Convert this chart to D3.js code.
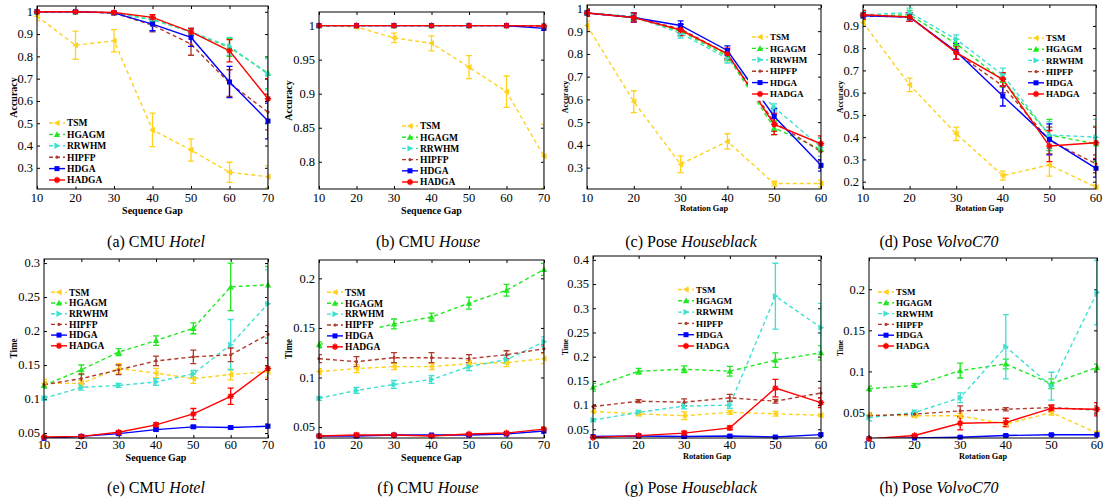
<!DOCTYPE html>
<html>
<head>
<meta charset="utf-8">
<script src="https://d3js.org/d3.v7.min.js"></script>
<style>
  body { margin: 0; background: #fff; }
  text { font-family: "Liberation Serif", "Times New Roman", serif; fill: #000; }
</style>
</head>
<body>
<svg width="1103" height="500"></svg>
<script>
// ---- data ----
var methods = ["TSM", "HGAGM", "RRWHM", "HIPFP", "HDGA", "HADGA"];
var seqGaps = [10, 20, 30, 40, 50, 60, 70];
var rotGaps = [10, 20, 30, 40, 50, 60];

// tick labels
var accTicksA = [0.3, 0.4, 0.5, 0.6, 0.7, 0.8, 0.9, 1];
var accTicksB = [0.8, 0.85, 0.9, 0.95, 1];
var accTicksC = [0.3, 0.4, 0.5, 0.6, 0.7, 0.8, 0.9, 1];
var accTicksD = [0.2, 0.3, 0.4, 0.5, 0.6, 0.7, 0.8, 0.9];
var timeTicksE = [0.05, 0.1, 0.15, 0.2, 0.25, 0.3];
var timeTicksF = [0.05, 0.1, 0.15, 0.2];
var timeTicksG = [0.05, 0.1, 0.15, 0.2, 0.25, 0.3, 0.35, 0.4];
var timeTicksH = [0.05, 0.1, 0.15, 0.2];

// (a) CMU Hotel accuracy, rows follow methods
var hotelAcc = [
  [0.98, 0.85, 0.87, 0.47, 0.38, 0.28, 0.26],
  [1, 1, 0.995, 0.965, 0.91, 0.84, 0.725],
  [1, 1, 0.995, 0.965, 0.91, 0.845, 0.72],
  [1, 1, 0.995, 0.94, 0.855, 0.68, 0.55],
  [1, 1, 0.995, 0.945, 0.885, 0.685, 0.51],
  [1, 1, 0.997, 0.975, 0.91, 0.825, 0.61]
];
var hotelAccErr = [
  [0.02, 0.063, 0.05, 0.075, 0.05, 0.045, 0.05],
  [0.003, 0.003, 0.005, 0.01, 0.01, 0.04, 0.07],
  [0.003, 0.003, 0.005, 0.01, 0.01, 0.04, 0.07],
  [0.003, 0.003, 0.005, 0.03, 0.05, 0.06, 0.08],
  [0.003, 0.003, 0.005, 0.03, 0.04, 0.07, 0.08],
  [0.003, 0.003, 0.005, 0.012, 0.015, 0.05, 0.09]
];

// (b) CMU House accuracy
var houseAcc = [
  [1, 0.998, 0.982, 0.974, 0.939, 0.903, 0.808],
  [1, 1, 1, 1, 1, 1, 1],
  [1, 1, 1, 1, 1, 1, 1],
  [1, 1, 1, 1, 1, 1, 0.999],
  [1, 1, 1, 1, 1, 1, 0.996],
  [1, 1, 1, 1, 1, 1, 0.9995]
];
var houseAccErr = [
  [0.001, 0.002, 0.007, 0.011, 0.017, 0.023, 0.047],
  [0, 0, 0, 0, 0, 0, 0],
  [0, 0, 0, 0, 0, 0, 0],
  [0, 0, 0, 0, 0, 0, 0.001],
  [0, 0, 0, 0, 0, 0, 0.003],
  [0, 0, 0, 0, 0, 0, 0.001]
];

// (c) Pose Houseblack accuracy
var houseblackAcc = [
  [0.925, 0.59, 0.315, 0.415, 0.23, 0.23],
  [0.98, 0.96, 0.9, 0.79, 0.475, 0.38],
  [0.98, 0.965, 0.89, 0.78, 0.565, 0.39],
  [0.98, 0.96, 0.91, 0.8, 0.5, 0.37],
  [0.98, 0.96, 0.925, 0.815, 0.525, 0.31],
  [0.98, 0.96, 0.905, 0.8, 0.49, 0.405]
];
var houseblackAccErr = [
  [0.02, 0.048, 0.037, 0.034, 0.01, 0.015],
  [0.01, 0.015, 0.02, 0.02, 0.03, 0.05],
  [0.01, 0.015, 0.02, 0.02, 0.015, 0.04],
  [0.01, 0.015, 0.02, 0.02, 0.04, 0.04],
  [0.01, 0.02, 0.02, 0.02, 0.035, 0.025],
  [0.015, 0.02, 0.025, 0.025, 0.045, 0.035]
];

// (d) Pose VolvoC70 accuracy
var volvoAcc = [
  [0.915, 0.635, 0.415, 0.227, 0.275, 0.175],
  [0.945, 0.95, 0.82, 0.655, 0.41, 0.37],
  [0.95, 0.96, 0.84, 0.68, 0.41, 0.4],
  [0.945, 0.94, 0.78, 0.63, 0.385, 0.28],
  [0.945, 0.94, 0.785, 0.585, 0.39, 0.26],
  [0.95, 0.94, 0.78, 0.66, 0.36, 0.375]
];
var volvoAccErr = [
  [0.01, 0.03, 0.03, 0.02, 0.05, 0.01],
  [0.015, 0.02, 0.02, 0.03, 0.07, 0.08],
  [0.015, 0.02, 0.02, 0.03, 0.06, 0.08],
  [0.015, 0.02, 0.03, 0.03, 0.06, 0.04],
  [0.015, 0.02, 0.035, 0.045, 0.07, 0.04],
  [0.02, 0.02, 0.03, 0.03, 0.07, 0.07]
];

// (e) CMU Hotel time
var hotelTime = [
  [0.123, 0.123, 0.145, 0.138, 0.13, 0.136, 0.14],
  [0.12, 0.143, 0.169, 0.186, 0.204, 0.265, 0.268],
  [0.101, 0.117, 0.12, 0.125, 0.137, 0.18, 0.24],
  [0.121, 0.13, 0.143, 0.156, 0.162, 0.165, 0.195],
  [0.042, 0.045, 0.049, 0.055, 0.059, 0.058, 0.06],
  [0.044, 0.045, 0.051, 0.062, 0.078, 0.104, 0.145]
];
var hotelTimeErr = [
  [0.006, 0.004, 0.007, 0.007, 0.007, 0.008, 0.008],
  [0.004, 0.007, 0.005, 0.007, 0.008, 0.035, 0.027],
  [0.003, 0.004, 0.003, 0.005, 0.005, 0.037, 0.05],
  [0.004, 0.007, 0.007, 0.007, 0.01, 0.01, 0.013],
  [0.002, 0.002, 0.002, 0.002, 0.002, 0.002, 0.003],
  [0.002, 0.002, 0.002, 0.003, 0.008, 0.012, 0.016]
];

// (f) CMU House time
var houseTime = [
  [0.106, 0.109, 0.111, 0.111, 0.114, 0.115, 0.119],
  [0.133, 0.145, 0.154, 0.161, 0.175, 0.188, 0.209],
  [0.079, 0.087, 0.093, 0.098, 0.111, 0.118, 0.136],
  [0.119, 0.116, 0.12, 0.12, 0.119, 0.123, 0.129],
  [0.041, 0.041, 0.042, 0.042, 0.042, 0.043, 0.046],
  [0.041, 0.042, 0.042, 0.041, 0.043, 0.044, 0.048]
];
var houseTimeErr = [
  [0.003, 0.004, 0.003, 0.003, 0.003, 0.004, 0.005],
  [0.003, 0.004, 0.005, 0.004, 0.006, 0.006, 0.006],
  [0.002, 0.003, 0.004, 0.004, 0.004, 0.004, 0.005],
  [0.004, 0.005, 0.005, 0.005, 0.004, 0.004, 0.004],
  [0.001, 0.001, 0.001, 0.001, 0.001, 0.001, 0.002],
  [0.001, 0.002, 0.001, 0.001, 0.001, 0.001, 0.002]
];

// (g) Pose Houseblack time
var houseblackTime = [
  [0.087, 0.082, 0.078, 0.085, 0.082, 0.079],
  [0.137, 0.17, 0.174, 0.17, 0.193, 0.208],
  [0.069, 0.085, 0.098, 0.1, 0.325, 0.26],
  [0.097, 0.108, 0.106, 0.115, 0.108, 0.125],
  [0.035, 0.036, 0.035, 0.036, 0.034, 0.039],
  [0.033, 0.037, 0.042, 0.053, 0.135, 0.105]
];
var houseblackTimeErr = [
  [0.004, 0.004, 0.008, 0.004, 0.005, 0.003],
  [0.008, 0.006, 0.007, 0.01, 0.015, 0.015],
  [0.003, 0.004, 0.006, 0.007, 0.068, 0.05],
  [0.004, 0.003, 0.007, 0.007, 0.004, 0.01],
  [0.002, 0.002, 0.002, 0.002, 0.002, 0.002],
  [0.002, 0.003, 0.004, 0.004, 0.018, 0.01]
];

// (h) Pose VolvoC70 time
var volvoTime = [
  [0.047, 0.046, 0.046, 0.036, 0.05, 0.025],
  [0.079, 0.083, 0.101, 0.109, 0.085, 0.105],
  [0.044, 0.05, 0.068, 0.13, 0.082, 0.196],
  [0.046, 0.048, 0.052, 0.054, 0.056, 0.053],
  [0.018, 0.019, 0.02, 0.022, 0.023, 0.023],
  [0.018, 0.022, 0.037, 0.038, 0.055, 0.054]
];
var volvoTimeErr = [
  [0.002, 0.002, 0.003, 0.003, 0.003, 0.002],
  [0.003, 0.002, 0.009, 0.006, 0.006, 0.004],
  [0.004, 0.003, 0.006, 0.039, 0.017, 0.039],
  [0.002, 0.002, 0.006, 0.002, 0.003, 0.005],
  [0.001, 0.001, 0.001, 0.001, 0.001, 0.001],
  [0.001, 0.001, 0.008, 0.005, 0.004, 0.008]
];

// ---- styles ----
var colors = ["#ffd21f", "#22e822", "#3ee0d0", "#b03a2a", "#0000ff", "#ff0000"];
var dashes = ["4,3", "4,3", "4,3", "4,3", null, null];
var markers = ["<", "^", ">", ".", "s", "*"];

var panels = [
  { box: [37, 268, 6, 189], ydom: [0.205, 1.026], xs: seqGaps, mean: hotelAcc, err: hotelAccErr, yt: accTicksA,
    xl: "Sequence Gap", yl: "Accuracy", xlSize: 10, ylSize: 10, ylx: 13, xly: 210, tdy: 9,
    leg: [49, 123, 11.4], legSize: 9.5 },
  { box: [319, 544, 12, 189], ydom: [0.76, 1.02], xs: seqGaps, mean: houseAcc, err: houseAccErr, yt: accTicksB,
    xl: "Sequence Gap", yl: "Accuracy", xlSize: 10, ylSize: 10, ylx: 288, xly: 210, tdy: 9,
    leg: [402, 126, 11.2], legSize: 9.5 },
  { box: [587, 821, 5, 189], ydom: [0.206, 1.015], xs: rotGaps, mean: houseblackAcc, err: houseblackAccErr, yt: accTicksC,
    xl: "Rotation Gap", yl: "Accuracy", xlSize: 8.3, ylSize: 8, ylx: 565, xly: 208.5, tdy: 9,
    leg: [752, 37, 11.4], legSize: 9 },
  { box: [863, 1096, 5, 189], ydom: [0.167, 0.994], xs: rotGaps, mean: volvoAcc, err: volvoAccErr, yt: accTicksD,
    xl: "Rotation Gap", yl: "Accuracy", xlSize: 8.3, ylSize: 8, ylx: 840, xly: 208.5, tdy: 9,
    leg: [1028, 38, 11.2], legSize: 9 },
  { box: [44, 268, 259, 438], ydom: [0.0426, 0.306], xs: seqGaps, mean: hotelTime, err: hotelTimeErr, yt: timeTicksE,
    xl: "Sequence Gap", yl: "Time", xlSize: 10, ylSize: 11, ylx: 13, xly: 457, tdy: 7,
    leg: [51, 292.3, 10.7], legSize: 9.5 },
  { box: [319, 544, 260, 438], ydom: [0.039, 0.2185], xs: seqGaps, mean: houseTime, err: houseTimeErr, yt: timeTicksF,
    xl: "Sequence Gap", yl: "Time", xlSize: 10, ylSize: 11, ylx: 288, xly: 457, tdy: 7,
    leg: [327, 292.3, 10.9], legSize: 9.5 },
  { box: [593, 821, 256, 438], ydom: [0.032, 0.408], xs: rotGaps, mean: houseblackTime, err: houseblackTimeErr, yt: timeTicksG,
    xl: "Rotation Gap", yl: "Time", xlSize: 8.3, ylSize: 9, ylx: 565, xly: 456.5, tdy: 7,
    leg: [678, 289.5, 11.3], legSize: 9 },
  { box: [869, 1097, 258, 438], ydom: [0.019, 0.238], xs: rotGaps, mean: volvoTime, err: volvoTimeErr, yt: timeTicksH,
    xl: "Rotation Gap", yl: "Time", xlSize: 8.3, ylSize: 9, ylx: 840, xly: 456.5, tdy: 7,
    leg: [878, 292, 10.8], legSize: 9 }
];

var captions = [
  ["(a) CMU ", "Hotel", 156, 247], ["(b) CMU ", "House", 428, 247],
  ["(c) Pose ", "Houseblack", 691, 247], ["(d) Pose ", "VolvoC70", 939, 247],
  ["(e) CMU ", "Hotel", 156, 493], ["(f) CMU ", "House", 428, 493],
  ["(g) Pose ", "Houseblack", 691, 493], ["(h) Pose ", "VolvoC70", 939, 493]
];

var svg = d3.select("svg");

function marker(g, type, x, y, c) {
  var s = 3.2;
  if (type === "<") {
    g.append("path").attr("d", "M" + (x - s) + "," + y + "L" + (x + s * 0.8) + "," + (y - s) + "L" + (x + s * 0.8) + "," + (y + s) + "Z").attr("fill", c);
  } else if (type === ">") {
    g.append("path").attr("d", "M" + (x + s) + "," + y + "L" + (x - s * 0.8) + "," + (y - s) + "L" + (x - s * 0.8) + "," + (y + s) + "Z").attr("fill", c);
  } else if (type === "^") {
    g.append("path").attr("d", "M" + x + "," + (y - s) + "L" + (x - s) + "," + (y + s * 0.8) + "L" + (x + s) + "," + (y + s * 0.8) + "Z").attr("fill", c);
  } else if (type === ".") {
    g.append("circle").attr("cx", x).attr("cy", y).attr("r", 1.6).attr("fill", c);
  } else if (type === "s") {
    g.append("rect").attr("x", x - 2.5).attr("y", y - 2.5).attr("width", 5).attr("height", 5).attr("fill", c);
  } else if (type === "*") {
    g.append("path").attr("d", "M" + (x - s) + "," + y + "H" + (x + s) + "M" + x + "," + (y - s) + "V" + (y + s) +
      "M" + (x - 2.2) + "," + (y - 2.2) + "L" + (x + 2.2) + "," + (y + 2.2) + "M" + (x - 2.2) + "," + (y + 2.2) + "L" + (x + 2.2) + "," + (y - 2.2))
      .attr("stroke", c).attr("stroke-width", 1.4);
  }
}

panels.forEach(function (p, pi) {
  var x0 = p.box[0], x1 = p.box[1], y0 = p.box[2], y1 = p.box[3];
  var x = d3.scaleLinear().domain(d3.extent(p.xs)).range([x0, x1]);
  var y = d3.scaleLinear().domain(p.ydom).range([y1, y0]);
  var g = svg.append("g");

  var cid = "clip" + pi;
  svg.append("clipPath").attr("id", cid).append("rect")
    .attr("x", x0).attr("y", y0).attr("width", x1 - x0).attr("height", y1 - y0);

  // axes with inward ticks on every side
  g.append("g").attr("transform", "translate(0," + y1 + ")")
    .call(d3.axisBottom(x).tickValues(p.xs).tickSize(-3).tickPadding(0).tickFormat(""))
    .call(function (a) { a.select(".domain").remove(); });
  g.append("g").attr("transform", "translate(0," + y0 + ")")
    .call(d3.axisTop(x).tickValues(p.xs).tickSize(-3).tickFormat(""))
    .call(function (a) { a.select(".domain").remove(); });
  g.append("g").attr("transform", "translate(" + x0 + ",0)")
    .call(d3.axisLeft(y).tickValues(p.yt).tickSize(-3).tickFormat(""))
    .call(function (a) { a.select(".domain").remove(); });
  g.append("g").attr("transform", "translate(" + x1 + ",0)")
    .call(d3.axisRight(y).tickValues(p.yt).tickSize(-3).tickFormat(""))
    .call(function (a) { a.select(".domain").remove(); });

  g.selectAll(".xt").data(p.xs).enter().append("text")
    .attr("x", function (d) { return x(d); }).attr("y", y1 + p.tdy).attr("dy", "0.35em")
    .attr("text-anchor", "middle").style("font-size", "12.5px").text(function (d) { return d; });
  g.selectAll(".yt").data(p.yt).enter().append("text")
    .attr("x", x0 - 4).attr("y", function (d) { return y(d); }).attr("dy", "0.35em")
    .attr("text-anchor", "end").style("font-size", "12.5px").text(function (d) { return d; });

  g.append("text").attr("x", (x0 + x1) / 2).attr("y", p.xly).attr("dy", "0.35em")
    .attr("text-anchor", "middle").style("font-size", p.xlSize + "px").style("font-weight", "bold").text(p.xl);
  var yl = g.append("text").attr("transform", "translate(" + p.ylx + "," + ((y0 + y1) / 2) + ") rotate(-90)")
    .attr("dy", "0.35em").attr("text-anchor", "middle")
    .style("font-size", p.ylSize + "px").style("font-weight", "bold").text(p.yl);
  if (p.yl === "Time") yl.attr("textLength", p.ylSize * 1.8).attr("lengthAdjust", "spacingAndGlyphs");

  var plot = g.append("g");
  var clipped = plot.append("g").attr("clip-path", "url(#" + cid + ")");

  methods.forEach(function (m, i) {
    var pts = p.xs.map(function (xv, j) { return [xv, p.mean[i][j], p.err[i][j]]; });
    var line = d3.line().x(function (d) { return x(d[0]); }).y(function (d) { return y(d[1]); });
    clipped.append("path").datum(pts).attr("d", line)
      .attr("fill", "none").attr("stroke", colors[i]).attr("stroke-width", 1.4)
      .attr("stroke-dasharray", dashes[i]);
    pts.forEach(function (d) {
      var cx = x(d[0]), ya = y(d[1] + d[2]), yb = y(d[1] - d[2]);
      clipped.append("path")
        .attr("d", "M" + cx + "," + ya + "V" + yb + "M" + (cx - 3) + "," + ya + "H" + (cx + 3) + "M" + (cx - 3) + "," + yb + "H" + (cx + 3))
        .attr("stroke", colors[i]).attr("stroke-width", 1.3).attr("fill", "none");
      marker(plot, markers[i], cx, y(d[1]), colors[i]);
    });
  });

  // legend with white background
  var lx = p.leg[0], ly = p.leg[1], ls = p.leg[2];
  var lg = g.append("g");
  lg.append("rect").attr("x", lx - 4).attr("y", ly - ls / 2 - 2)
    .attr("width", 56).attr("height", ls * 6 + 3).attr("fill", "#fff");
  methods.forEach(function (m, i) {
    var yy = ly + i * ls;
    lg.append("line").attr("x1", lx).attr("x2", lx + 16).attr("y1", yy).attr("y2", yy)
      .attr("stroke", colors[i]).attr("stroke-width", 1.4).attr("stroke-dasharray", dashes[i]);
    marker(lg, markers[i], lx + 8, yy, colors[i]);
    lg.append("text").attr("x", lx + 18).attr("y", yy).attr("dy", "0.35em")
      .style("font-size", p.legSize + "px").style("font-weight", "bold").text(m);
  });

  g.append("rect").attr("x", x0).attr("y", y0).attr("width", x1 - x0).attr("height", y1 - y0)
    .attr("fill", "none").attr("stroke", "#000").attr("stroke-width", 1);
});

captions.forEach(function (c) {
  var t = svg.append("text").attr("x", c[2]).attr("y", c[3]).attr("text-anchor", "middle").style("font-size", "16px");
  t.append("tspan").text(c[0]);
  t.append("tspan").style("font-style", "italic").text(c[1]);
});
</script>
</body>
</html>
